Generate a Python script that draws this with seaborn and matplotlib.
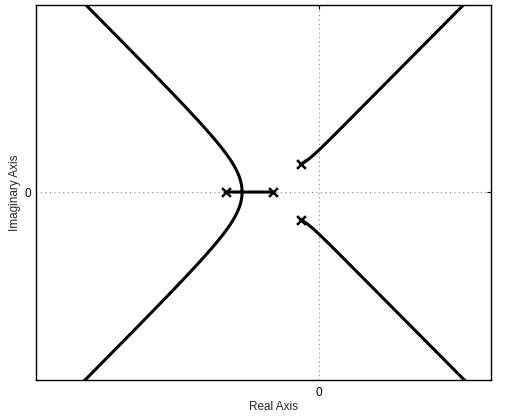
import numpy as np
import pandas as pd
import matplotlib
matplotlib.use("Agg")
import matplotlib.pyplot as plt
import seaborn as sns

# Open-loop poles of the plant (real and imaginary parts)
pole_re = [-2.03, -1.0, -0.4, -0.4]
pole_im = [0.0, 0.0, 0.6, -0.6]
x_ticks = [0]
y_ticks = [0]
x_limits = [-6.15, 3.74]
y_limits = [-4.09, 4.07]

poles = np.array(pole_re) + 1j * np.array(pole_im)
den = np.real(np.poly(poles))

# Closed-loop roots of den(s) + K = 0 over a sweep of gains
gains = np.concatenate([[0.0], np.logspace(-4, 4, 4000)])
branches = [np.sort_complex(poles)]
for k in gains[1:]:
    r = np.roots(den + np.r_[np.zeros(len(den) - 1), k])
    prev = branches[-1]
    ordered = np.empty_like(prev)
    left = list(r)
    for i, p in enumerate(prev):
        j = int(np.argmin([abs(p - c) for c in left]))
        ordered[i] = left.pop(j)
    branches.append(ordered)
branches = np.array(branches)

rows = []
for b in range(branches.shape[1]):
    for step, z in enumerate(branches[:, b]):
        rows.append({"branch": b, "step": step, "re": z.real, "im": z.imag})
locus = pd.DataFrame(rows)
pole_df = pd.DataFrame({"re": pole_re, "im": pole_im})

sns.set_style("white")
plt.rcParams["font.family"] = ["Liberation Sans", "DejaVu Sans"]

fig = plt.figure(figsize=(5.08, 4.16), dpi=100)
ax = fig.add_axes([0.0709, 0.0865, 0.8956, 0.9015])

for b, grp in locus.groupby("branch"):
    sns.lineplot(data=grp, x="re", y="im", sort=False, ax=ax,
                 color="black", linewidth=2.2, estimator=None, legend=False)

sns.scatterplot(data=pole_df, x="re", y="im", marker="x", s=40,
                color="black", linewidth=1.8, ax=ax, zorder=5)

ax.set_xlim(x_limits)
ax.set_ylim(y_limits)
ax.set_xticks(x_ticks)
ax.set_yticks(y_ticks)
ax.grid(True, linestyle=(0, (1, 3)), color="#888888", linewidth=0.8)
ax.tick_params(direction="in", length=3, width=0.8, labelsize=8.5,
               top=True, right=True, colors="black")
ax.tick_params(axis="x", pad=5)
ax.tick_params(axis="y", pad=3.5)
for s in ax.spines.values():
    s.set_color("black")
    s.set_linewidth(1.0)
ax.set_xlabel("Real Axis", fontsize=8.5, labelpad=1.5, x=0.523)
ax.set_ylabel("Imaginary Axis", fontsize=8.5, labelpad=2.5)

fig.savefig("out.png", dpi=100)
